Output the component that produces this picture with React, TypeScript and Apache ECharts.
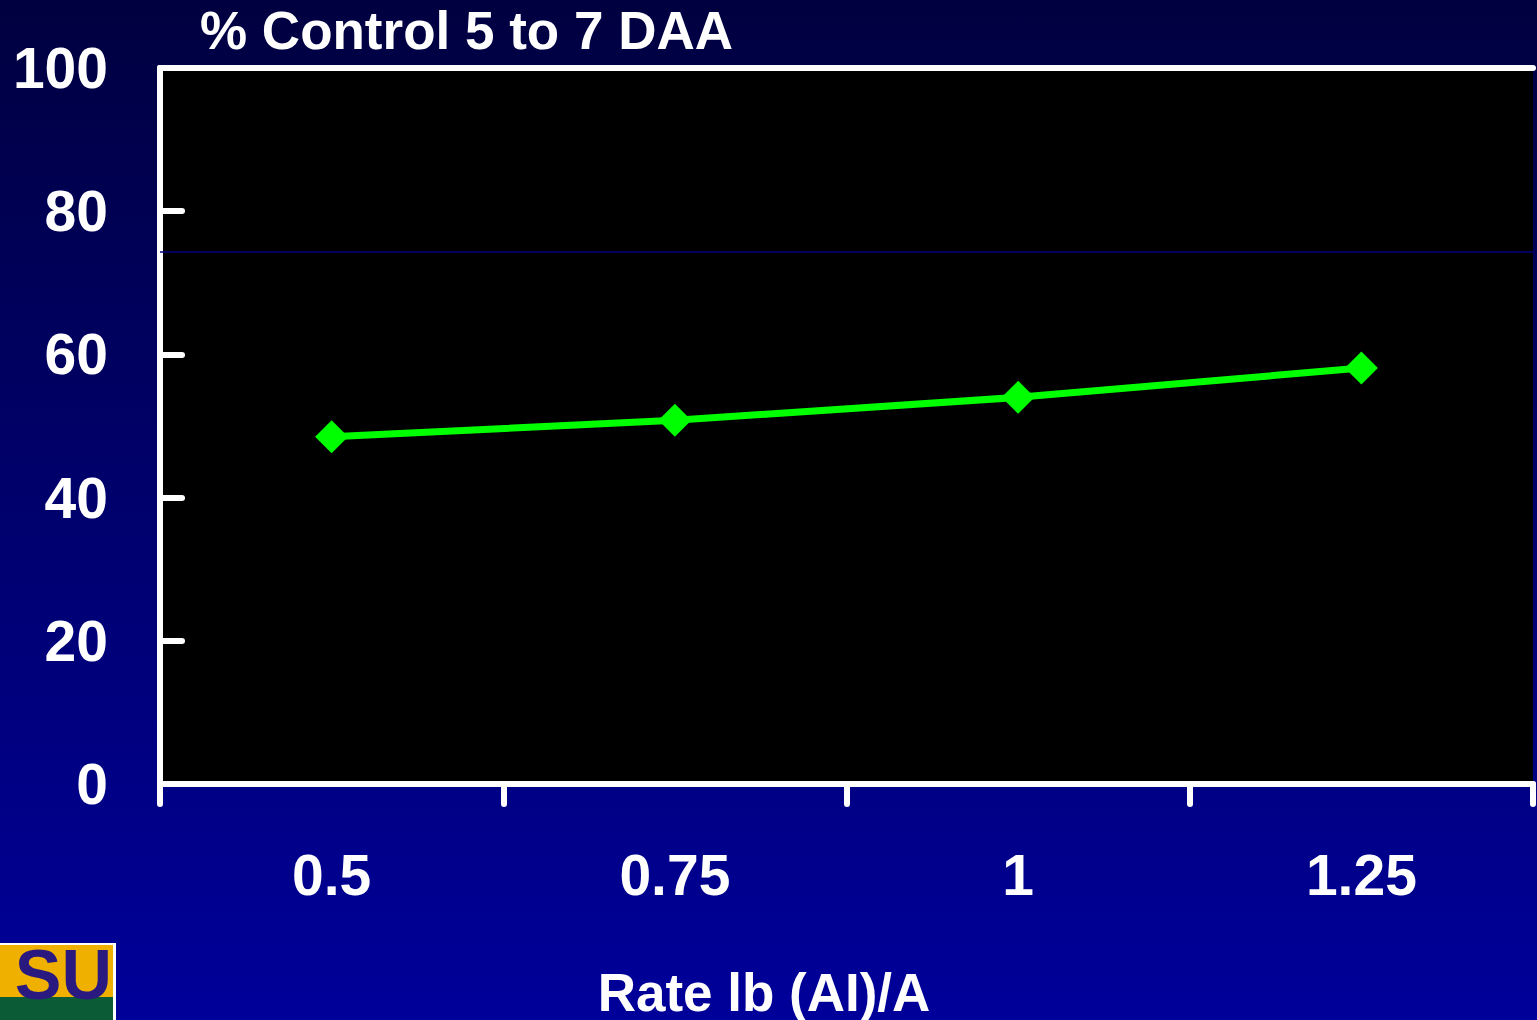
import React, { useEffect, useRef } from "react";
import * as echarts from "echarts";

const categories = ["0.5", "0.75", "1", "1.25"];
const controlValues = [48.5, 50.8, 54.0, 58.1];
const yTicks = [0, 20, 40, 60, 80, 100];
const referenceLineValue = 74.3;
const titleText = "% Control 5 to 7 DAA";
const xAxisName = "Rate lb (AI)/A";

export default function App() {
  const ref = useRef<HTMLDivElement>(null);
  useEffect(() => {
    document.body.style.margin = "0";
    const chart = echarts.init(ref.current!, undefined, { renderer: "svg" });
    const font = "'Liberation Sans', Arial, sans-serif";
    chart.setOption({
      animation: false,
      backgroundColor: {
        type: "linear",
        x: 0,
        y: 0,
        x2: 0,
        y2: 1,
        colorStops: [
          { offset: 0, color: "#000040" },
          { offset: 1, color: "#00009a" },
        ],
      },
      title: {
        text: titleText,
        left: 195,
        top: -1,
        textStyle: { color: "#fff", fontSize: 53, fontWeight: "bold", fontFamily: font },
      },
      grid: {
        left: 160,
        right: 4,
        top: 68,
        bottom: 236,
        show: true,
        backgroundColor: "#000",
        borderWidth: 0,
      },
      xAxis: [
        {
          type: "category",
          data: categories,
          boundaryGap: true,
          axisLine: { lineStyle: { color: "#fff", width: 6 } },
          axisTick: { show: true, length: 20, lineStyle: { color: "#fff", width: 6, cap: "round" } },
          axisLabel: {
            color: "#fff",
            fontSize: 57,
            fontWeight: "bold",
            fontFamily: font,
            margin: 62,
          },
          splitLine: { show: false },
        },
        {
          type: "category",
          data: categories,
          position: "top",
          axisLine: { lineStyle: { color: "#fff", width: 6 } },
          axisTick: { show: false },
          axisLabel: { show: false },
        },
      ],
      yAxis: {
        type: "value",
        min: yTicks[0],
        max: yTicks[yTicks.length - 1],
        interval: 20,
        axisLine: { show: true, lineStyle: { color: "#fff", width: 6 } },
        axisTick: { show: true, inside: true, length: 22, lineStyle: { color: "#fff", width: 6, cap: "round" } },
        axisLabel: {
          color: "#fff",
          fontSize: 57,
          fontWeight: "bold",
          fontFamily: font,
          margin: 52,
        },
        splitLine: { show: false },
      },
      series: [
        {
          type: "line",
          data: controlValues,
          symbol: "diamond",
          symbolSize: [33, 33],
          lineStyle: { color: "#00ff00", width: 7 },
          itemStyle: { color: "#00ff00" },
          z: 5,
          markLine: {
            silent: true,
            symbol: "none",
            label: { show: false },
            lineStyle: { color: "#000080", width: 1.5, type: "solid" },
            data: [{ yAxis: referenceLineValue }],
          },
        },
      ],
      graphic: [
        {
          type: "text",
          x: 764,
          y: 992,
          style: {
            text: xAxisName,
            align: "center",
            verticalAlign: "middle",
            fill: "#fff",
            font: `bold 53px ${font}`,
          },
        },
        { type: "rect", shape: { x: 0, y: 943, width: 116, height: 77 }, style: { fill: "#fff" } },
        { type: "rect", shape: { x: 0, y: 945, width: 113, height: 52 }, style: { fill: "#f0b000" } },
        { type: "rect", shape: { x: 0, y: 997, width: 113, height: 23 }, style: { fill: "#0b5c36" } },
        {
          type: "text",
          x: 112,
          y: 940,
          style: {
            text: "SU",
            align: "right",
            verticalAlign: "top",
            fill: "#2a1a80",
            font: `bold 70px ${font}`,
          },
        },
      ],
    });
    return () => chart.dispose();
  }, []);
  return <div ref={ref} style={{ width: 1537, height: 1020 }} />;
}
